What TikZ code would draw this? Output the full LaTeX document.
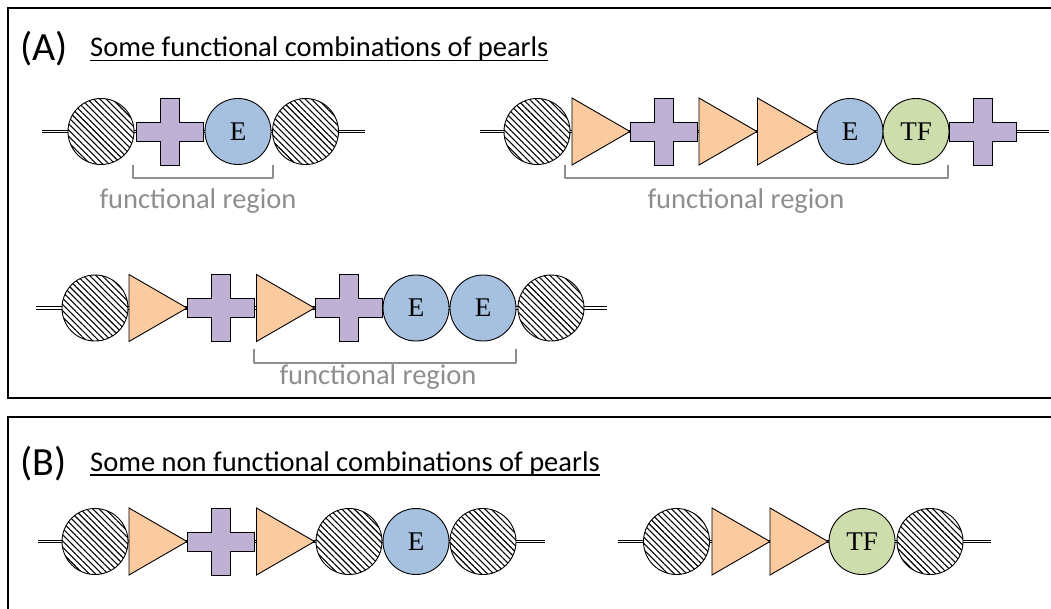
\documentclass[tikz,border=0pt]{standalone}
\usepackage{fontspec}
\usepackage{tikz}
\usetikzlibrary{patterns.meta}
\newfontfamily\calib{Carlito}
\newfontfamily\pearlfont{Liberation Serif}
\definecolor{crossviolet}{HTML}{BFB1D3}
\definecolor{triorange}{HTML}{FBCA9F}
\definecolor{enzblue}{HTML}{A6C0DF}
\definecolor{tfgreen}{HTML}{CEDDAC}
\definecolor{regiongray}{HTML}{8E8E8E}
\newcommand{\titleline}[1]{\setbox0\hbox{#1}\rlap{\rule[-4.5pt]{\wd0}{1.4pt}}\box0}
\tikzset{
	pearl/.style={circle,draw,line width=.9pt,minimum size=66pt,inner sep=0pt,font=\pearlfont\fontsize{27}{27}\selectfont},
	hatched/.style={pearl,preaction={fill=white},pattern={Lines[angle=-45,distance=4.4pt,line width=1.1pt]}},
	enz/.style={pearl,fill=enzblue},
	tfac/.style={pearl,fill=tfgreen},
	link/.style={double,double distance=1.6pt,line width=.8pt},
	bracket/.style={draw=regiongray,line width=2.8pt,line join=round},
	region/.style={text=regiongray,font=\calib\fontsize{28.5}{28.5}\selectfont,anchor=base},
	panel/.style={draw,line width=1.3pt},
	plus/.pic={\draw[line width=.9pt,fill=crossviolet] (-9.5pt,-33.5pt) -- (9.5pt,-33.5pt) -- (9.5pt,-9.5pt) -- (33.5pt,-9.5pt) -- (33.5pt,9.5pt) -- (9.5pt,9.5pt) -- (9.5pt,33.5pt) -- (-9.5pt,33.5pt) -- (-9.5pt,9.5pt) -- (-33.5pt,9.5pt) -- (-33.5pt,-9.5pt) -- (-9.5pt,-9.5pt) -- cycle;},
	tri/.pic={\draw[line width=.9pt,fill=triorange] (-29pt,-33.5pt) -- (29pt,0pt) -- (-29pt,33.5pt) -- cycle;}
}
\begin{document}
\begin{tikzpicture}[yscale=-1]
	\useasboundingbox (0pt,0pt) rectangle (1051pt,609pt);
	\clip (0pt,0pt) rectangle (1051pt,609pt);
	% panels
	\draw[panel] (8pt,8pt) rectangle (1070pt,398pt);
	\draw[panel] (8pt,417pt) rectangle (1070pt,640pt);
	\node[anchor=base west,font=\calib\fontsize{40}{40}\selectfont] (lA) at (17pt,61pt) {(A)};
	\node[anchor=base west,font=\calib\fontsize{28.5}{28.5}\selectfont,inner sep=0pt] (sA) at (90pt,57pt) {\titleline{Some functional combinations of pearls}};
	\node[anchor=base west,font=\calib\fontsize{40}{40}\selectfont] (lB) at (17pt,475pt) {(B)};
	\node[anchor=base west,font=\calib\fontsize{28.5}{28.5}\selectfont,inner sep=0pt] (sB) at (90pt,471pt) {\titleline{Some non functional combinations of pearls}};
	% row 1
	\coordinate (s1) at (42pt,131.5pt);
	\coordinate (t1) at (365pt,131.5pt);
	\draw[link] (s1) -- (t1);
	\node[hatched] (h11) at (101pt,131.5pt) {};
	\pic (p11) at (169.5pt,131.5pt) {plus};
	\node[enz] (e11) at (238pt,131.5pt) {E};
	\node[hatched] (h12) at (305.5pt,131.5pt) {};
	\draw[bracket] (133pt,165pt) -- (133pt,178pt) -- (273pt,178pt) -- (273pt,165pt);
	\node[region] (r1) at (198pt,209pt) {functional region};
	% row 2
	\coordinate (s2) at (480pt,131.5pt);
	\coordinate (t2) at (1049pt,131.5pt);
	\draw[link] (s2) -- (t2);
	\node[hatched] (h21) at (537pt,131.5pt) {};
	\pic (q21) at (601pt,131.5pt) {tri};
	\pic (p21) at (664pt,131.5pt) {plus};
	\pic (q22) at (728pt,131.5pt) {tri};
	\pic (q23) at (786.5pt,131.5pt) {tri};
	\node[enz] (e21) at (850pt,131.5pt) {E};
	\node[tfac] (f21) at (916pt,131.5pt) {TF};
	\pic (p22) at (983pt,131.5pt) {plus};
	\draw[bracket] (565pt,165pt) -- (565pt,178pt) -- (948pt,178pt) -- (948pt,165pt);
	\node[region] (r2) at (746pt,209pt) {functional region};
	% row 3
	\coordinate (s3) at (36pt,308pt);
	\coordinate (t3) at (607pt,308pt);
	\draw[link] (s3) -- (t3);
	\node[hatched] (h31) at (95pt,308pt) {};
	\pic (q31) at (158pt,308pt) {tri};
	\pic (p31) at (221pt,308pt) {plus};
	\pic (q32) at (285.5pt,308pt) {tri};
	\pic (p32) at (348.5pt,308pt) {plus};
	\node[enz] (e31) at (416pt,308pt) {E};
	\node[enz] (e32) at (483pt,308pt) {E};
	\node[hatched] (h32) at (551pt,308pt) {};
	\draw[bracket] (254pt,349pt) -- (254pt,363pt) -- (516pt,363pt) -- (516pt,349pt);
	\node[region] (r3) at (378pt,384pt) {functional region};
	% row 4
	\coordinate (s4) at (38pt,541.5pt);
	\coordinate (t4) at (545pt,541.5pt);
	\draw[link] (s4) -- (t4);
	\node[hatched] (h41) at (95pt,541.5pt) {};
	\pic (q41) at (158pt,541.5pt) {tri};
	\pic (p41) at (221pt,541.5pt) {plus};
	\pic (q42) at (285.5pt,541.5pt) {tri};
	\node[hatched] (h42) at (349pt,541.5pt) {};
	\node[enz] (e41) at (416pt,541.5pt) {E};
	\node[hatched] (h43) at (483pt,541.5pt) {};
	% row 5
	\coordinate (s5) at (618pt,541.5pt);
	\coordinate (t5) at (991pt,541.5pt);
	\draw[link] (s5) -- (t5);
	\node[hatched] (h51) at (676.5pt,541.5pt) {};
	\pic (q51) at (741pt,541.5pt) {tri};
	\pic (q52) at (799pt,541.5pt) {tri};
	\node[tfac] (f51) at (862pt,541.5pt) {TF};
	\node[hatched] (h52) at (930pt,541.5pt) {};
\end{tikzpicture}
\end{document}
